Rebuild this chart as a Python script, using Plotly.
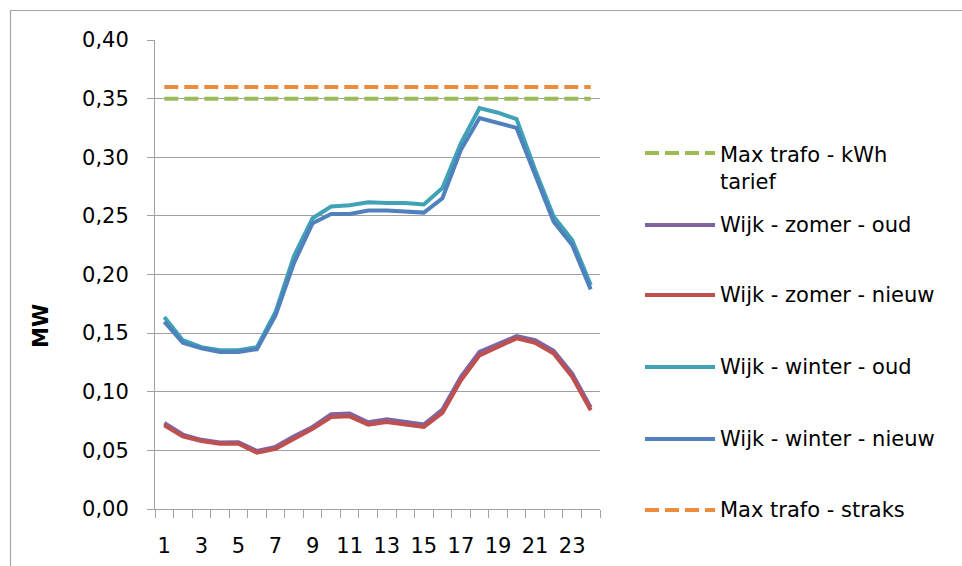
import plotly.graph_objects as go

# ---- data ----
hours = list(range(1, 25))
zomer_oud = [0.0733, 0.0635, 0.059, 0.0567, 0.057, 0.0495, 0.053, 0.062, 0.070, 0.0808, 0.0815, 0.074,
             0.0765, 0.074, 0.072, 0.0848, 0.1127, 0.134, 0.1406, 0.1474, 0.144, 0.1349, 0.1155, 0.0865]
zomer_nieuw = [0.0714, 0.062, 0.058, 0.0557, 0.0557, 0.048, 0.0514, 0.060, 0.0685, 0.0785, 0.079, 0.072,
               0.0742, 0.072, 0.070, 0.0819, 0.1098, 0.131, 0.138, 0.1455, 0.1417, 0.1326, 0.1127, 0.0842]
winter_oud = [0.1637, 0.144, 0.138, 0.1355, 0.1355, 0.138, 0.168, 0.216, 0.248, 0.258, 0.259, 0.2617,
              0.261, 0.261, 0.2597, 0.2737, 0.312, 0.342, 0.338, 0.3326, 0.2893, 0.2494, 0.2295, 0.191]
winter_nieuw = [0.1597, 0.1417, 0.137, 0.134, 0.134, 0.1363, 0.165, 0.210, 0.2437, 0.2517, 0.2517, 0.2545,
                0.2545, 0.2537, 0.2528, 0.265, 0.3064, 0.3335, 0.329, 0.325, 0.285, 0.245, 0.2252, 0.1873]
max_trafo_kwh = 0.35
max_trafo_straks = 0.36

series_names = ["Max trafo - kWh<br>tarief", "Wijk - zomer - oud", "Wijk - zomer - nieuw",
                "Wijk - winter - oud", "Wijk - winter - nieuw", "Max trafo - straks"]
y_ticks = [0.0, 0.05, 0.10, 0.15, 0.20, 0.25, 0.30, 0.35, 0.40]
x_ticks = [1, 3, 5, 7, 9, 11, 13, 15, 17, 19, 21, 23]

# ---- styles ----
colors = ["#9BBB59", "#8064A2", "#C0504D", "#3FA2B6", "#4F81BD", "#EE8C3E"]
dashes = ["14px,6px", "solid", "solid", "solid", "solid", "14px,6px"]
FONT = "DejaVu Sans"
FS = 21
LW = 4

fig = go.Figure()
ys = [[max_trafo_kwh, max_trafo_kwh], zomer_oud, zomer_nieuw, winter_oud, winter_nieuw,
      [max_trafo_straks, max_trafo_straks]]
xs = [[hours[0], hours[-1]], hours, hours, hours, hours, [hours[0], hours[-1]]]
for name, x, y, c, d in zip(series_names, xs, ys, colors, dashes):
    fig.add_trace(go.Scatter(x=x, y=y, mode="lines", name=name.replace("<br>", " "),
                             line=dict(color=c, width=LW, dash=d), showlegend=False,
                             hoverinfo="skip"))

# ---- layout geometry ----
Wd, Ht = 962, 566
L, R, T, B = 155, 362, 40, 57
PW, PH = Wd - L - R, Ht - T - B


def pxx(x):
    return (x - L) / PW


def pxy(y):
    return 1 - (y - T) / PH


shapes = []
annotations = []
# chart border
shapes.append(dict(type="rect", xref="paper", yref="paper", x0=pxx(10.5), x1=pxx(1200),
                   y0=pxy(900), y1=pxy(10.5), line=dict(color="#A6A6A6", width=1.2),
                   fillcolor="rgba(0,0,0,0)", layer="below"))

# custom legend
leg_line_y = [153, 225, 295, 367, 439, 510]
leg_text_y = [169, 225, 295, 367, 439, 510]
for name, c, d, ly, ty in zip(series_names, colors, dashes, leg_line_y, leg_text_y):
    shapes.append(dict(type="line", xref="paper", yref="paper", x0=pxx(645), x1=pxx(715),
                       y0=pxy(ly), y1=pxy(ly), line=dict(color=c, width=LW, dash=d)))
    annotations.append(dict(xref="paper", yref="paper", x=pxx(718), y=pxy(ty), text=name,
                            showarrow=False, xanchor="left", yanchor="middle", align="left",
                            font=dict(family=FONT, size=FS, color="black")))

# y-axis title
annotations.append(dict(xref="paper", yref="paper", x=pxx(41), y=pxy(326), text="<b>MW</b>",
                        textangle=-90, showarrow=False, xanchor="center", yanchor="middle",
                        font=dict(family=FONT, size=FS, color="black")))

fig.update_layout(
    width=Wd, height=Ht,
    margin=dict(l=L, r=R, t=T, b=B, pad=0, autoexpand=False),
    paper_bgcolor="white", plot_bgcolor="white",
    separators=",.",
    font=dict(family=FONT, size=FS, color="black"),
    shapes=shapes, annotations=annotations,
    showlegend=False,
)
fig.update_yaxes(range=[0, 0.40], tickvals=y_ticks, tickformat=".2f", automargin=False,
                 showgrid=True, gridcolor="#A0A0A0", gridwidth=1,
                 showline=True, linecolor="#A0A0A0", linewidth=1,
                 ticks="outside", ticklen=7, tickcolor="#A0A0A0", ticklabelstandoff=14,
                 zeroline=False, tickfont=dict(family=FONT, size=FS, color="black"))
fig.update_xaxes(range=[0.5, 24.5], tickvals=x_ticks, ticks="", automargin=False,
                 showgrid=False, showline=True, linecolor="#A0A0A0", linewidth=1,
                 zeroline=False, ticklabelstandoff=18,
                 minor=dict(ticks="outside", ticklen=8, tickcolor="#A0A0A0", tick0=0.5, dtick=1,
                            showgrid=False),
                 tickfont=dict(family=FONT, size=FS, color="black"))

fig.write_html("out.html", config={"displayModeBar": False},
               post_script="document.body.style.margin='0';")
